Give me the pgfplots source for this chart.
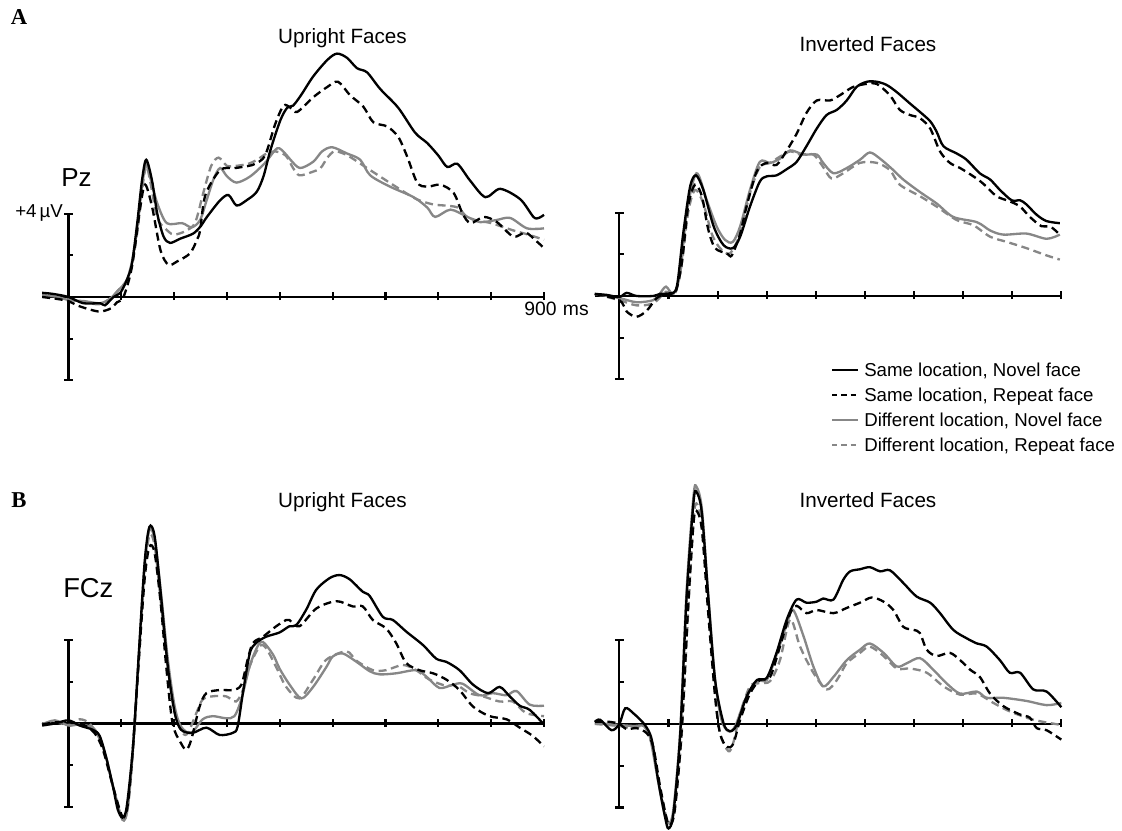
\documentclass[border=0pt]{standalone}
\usepackage{fontspec}
\setmainfont{Liberation Sans}
\newfontfamily\serifbf{Liberation Serif}
\usepackage{pgfplots}
\pgfplotsset{compat=1.18}
\definecolor{lgray}{RGB}{135,135,135}

\pgfplotsset{
 erp/.style={hide axis, scale only axis, clip=false, xmin=-50, xmax=900, ymin=-5, ymax=13, anchor=south west},
 sn/.style={black, line width=1.75pt, smooth, tension=0.5},
 sr/.style={black, line width=1.75pt, smooth, tension=0.5, dash pattern=on 6pt off 3.5pt},
 dn/.style={lgray, line width=1.75pt, smooth, tension=0.5},
 dr/.style={lgray, line width=1.75pt, smooth, tension=0.5, dash pattern=on 6pt off 3.5pt},
}
\tikzset{axln/.style={black, line width=1.6pt}}
\newcommand{\erpframe}{%
 \draw[axln] (axis cs:-50,0) -- (axis cs:900,0);
 \draw[axln] (axis cs:0,-4) -- (axis cs:0,4);
 \draw[axln] ([xshift=-3.4pt]axis cs:0,4) -- ([xshift=3.4pt]axis cs:0,4);
 \draw[axln] ([xshift=-3.4pt]axis cs:0,-4) -- ([xshift=3.4pt]axis cs:0,-4);
 \draw[axln] (axis cs:0,2) -- ([xshift=3.4pt]axis cs:0,2);
 \draw[axln] (axis cs:0,-2) -- ([xshift=3.4pt]axis cs:0,-2);
 \pgfplotsinvokeforeach{100,200,300,400,500,600,700,800,900}{\draw[axln] ([yshift=-2.4pt]axis cs:##1,0) -- ([yshift=3.6pt]axis cs:##1,0);}
}

\begin{document}
\begin{tikzpicture}
\path[use as bounding box] (0,0) rectangle (841.5pt,623.25pt);

% ---------------- A: Pz, Upright
\begin{axis}[erp, at={(31.6pt,322.5pt)}, width=376.4pt, height=280.8pt]
\erpframe
\addplot[dn] coordinates {(-50,0.1)(-20,0.0)(0,-0.15)(30,-0.2)(60,-0.3)(80,-0.05)(95,0.35)(110,0.8)(120,1.7)(130,3.3)(139,5.3)(147,6.45)(155,5.7)(168,4.5)(186,3.55)(215,3.55)(233,3.35)(249,3.7)(262,4.7)(275,5.7)(287,6.2)(300,5.8)(318,5.5)(344,5.8)(372,6.45)(395,7.15)(410,6.9)(420,6.6)(438,6.2)(463,6.5)(480,7.0)(499,7.2)(527,6.9)(552,6.6)(571,5.85)(609,5.3)(653,4.8)(679,4.3)(694,3.85)(723,4.2)(755,3.85)(779,3.6)(810,3.7)(836,3.8)(868,3.3)(900,3.3)};
\addplot[dr] coordinates {(-50,0.05)(-20,-0.05)(0,-0.1)(30,-0.25)(60,-0.35)(80,-0.05)(95,0.35)(110,0.8)(120,1.6)(130,3.1)(139,5.1)(147,6.3)(155,5.5)(168,3.8)(183,3.3)(199,3.0)(224,3.2)(240,3.6)(255,5.0)(270,6.3)(284,6.7)(300,6.3)(316,6.3)(340,6.4)(357,6.6)(375,6.9)(391,7.0)(411,6.8)(425,6.2)(437,5.85)(460,6.0)(477,6.2)(490,6.7)(503,7.0)(520,6.9)(535,6.7)(574,6.05)(626,5.2)(659,4.7)(690,4.45)(711,4.4)(737,4.3)(752,3.9)(770,3.7)(800,3.55)(842,3.2)(870,3.0)(900,2.75)};
\addplot[sr] coordinates {(-50,0.0)(-20,-0.1)(0,-0.2)(16,-0.4)(40,-0.6)(60,-0.7)(80,-0.55)(92,-0.25)(104,0.0)(120,1.45)(136,4.35)(145,5.4)(158,4.35)(174,2.25)(189,1.55)(205,1.7)(230,2.1)(243,2.75)(249,3.2)(259,4.9)(287,6.1)(316,6.2)(340,6.3)(353,6.4)(372,6.8)(391,8.3)(407,9.2)(420,9.1)(433,8.9)(463,9.6)(490,10.1)(510,10.35)(533,9.7)(558,9.15)(577,8.4)(603,8.2)(624,7.7)(641,6.75)(660,5.5)(679,5.3)(704,5.4)(729,5.0)(746,4.0)(761,3.55)(786,3.85)(811,3.6)(842,2.9)(865,3.1)(885,2.7)(900,2.35)};
\addplot[sn] coordinates {(-50,0.2)(-30,0.15)(0,0.0)(28,-0.3)(60,-0.3)(69,-0.4)(85,0.0)(98,0.2)(110,0.8)(120,1.6)(130,3.55)(139,5.6)(147,6.6)(158,5.6)(168,4.0)(180,2.9)(192,2.6)(211,2.8)(236,3.05)(250,3.4)(262,3.85)(287,4.65)(303,4.9)(318,4.4)(337,4.65)(356,5.05)(369,5.8)(382,7.05)(401,8.5)(414,9.1)(425,9.2)(440,9.7)(463,10.6)(490,11.4)(508,11.7)(527,11.5)(546,11.0)(565,10.8)(590,10.0)(624,9.1)(656,7.9)(679,7.4)(700,6.8)(717,6.25)(736,6.4)(760,5.6)(789,4.8)(817,5.2)(855,4.7)(880,3.85)(890,3.8)(900,3.95)};
\end{axis}

% ---------------- A: Pz, Inverted
\begin{axis}[erp, at={(446.1pt,323.25pt)}, width=349.9pt, height=280.8pt]
\erpframe
\addplot[dn] coordinates {(-50,0.1)(0,-0.1)(35,-0.3)(69,-0.2)(82,0.1)(95,0.45)(110,0.1)(124,1.1)(137,4.0)(157,5.9)(178,4.6)(198,3.35)(215,2.7)(231,2.6)(246,3.35)(266,5.1)(286,6.45)(307,6.4)(327,6.6)(348,7.0)(375,6.8)(402,6.8)(415,6.4)(436,5.9)(463,6.15)(490,6.55)(510,6.9)(531,6.6)(558,6.05)(578,5.6)(612,5.0)(646,4.45)(680,3.8)(728,3.55)(755,3.15)(782,2.95)(829,3.0)(870,2.75)(897,2.95)};
\addplot[dr] coordinates {(-50,0.1)(0,-0.2)(35,-0.45)(69,-0.35)(95,0.2)(113,0.1)(127,1.55)(140,4.0)(154,5.1)(171,4.45)(188,3.0)(205,2.3)(225,2.05)(246,3.0)(266,4.95)(286,6.2)(307,6.4)(327,6.7)(348,6.95)(368,6.8)(395,6.8)(415,6.2)(432,5.65)(456,5.9)(490,6.4)(524,6.4)(551,6.05)(571,5.35)(612,4.8)(646,4.3)(687,3.65)(721,3.4)(755,2.85)(789,2.6)(829,2.3)(870,1.95)(897,1.75)};
\addplot[sr] coordinates {(-50,0.1)(0,-0.2)(15,-0.75)(35,-1.0)(56,-0.7)(76,-0.1)(96,0.1)(113,0.1)(127,1.55)(140,4.3)(154,5.35)(168,4.8)(181,3.2)(195,2.3)(219,2.05)(229,1.95)(246,3.0)(259,4.3)(280,6.0)(300,6.4)(320,6.3)(341,7.0)(361,7.8)(381,8.8)(402,9.4)(429,9.4)(449,9.65)(476,10.05)(504,10.2)(524,10.2)(551,9.65)(571,8.95)(592,8.7)(612,8.55)(633,8.05)(653,6.95)(673,6.4)(694,6.15)(721,5.75)(741,5.4)(768,4.8)(795,4.55)(816,4.3)(836,3.8)(860,3.35)(877,3.35)(897,2.95)};
\addplot[sn] coordinates {(-50,0.1)(-25,0.05)(0,-0.05)(15,0.15)(35,0.0)(69,0.0)(83,0.1)(103,0.13)(117,0.45)(130,3.0)(144,5.25)(156,5.8)(171,5.1)(192,3.35)(212,2.45)(231,2.3)(246,2.85)(266,4.3)(286,5.5)(300,5.75)(320,5.8)(341,6.1)(361,6.45)(381,7.2)(402,8.05)(422,8.7)(443,8.95)(463,9.4)(483,10.05)(504,10.3)(524,10.3)(544,10.15)(565,9.8)(592,9.25)(612,8.85)(633,8.4)(646,7.9)(660,7.2)(687,6.85)(707,6.55)(734,5.9)(755,5.6)(775,5.1)(799,4.6)(816,4.6)(829,4.4)(850,3.9)(870,3.6)(897,3.5)};
\end{axis}

% ---------------- B: FCz, Upright
\begin{axis}[erp, at={(31.6pt,2.25pt)}, width=376.4pt, height=282.2pt]
\erpframe
\addplot[dn] coordinates {(-50,-0.05)(-26,0.15)(0,-0.1)(21,-0.05)(46,-0.2)(59,-0.7)(71,-1.6)(84,-3.0)(102,-4.6)(112,-4.05)(122,-1.25)(133,3.2)(144,7.5)(153,9.25)(163,8.8)(175,6.25)(188,3.05)(201,0.8)(213,-0.15)(232,-0.45)(254,0.2)(273,0.35)(298,0.25)(314,0.35)(327,1.15)(343,2.75)(358,3.7)(368,3.9)(387,3.3)(400,2.6)(420,1.8)(441,1.2)(463,1.75)(488,2.7)(500,3.2)(519,3.35)(545,2.95)(570,2.5)(589,2.35)(620,2.4)(658,2.55)(677,2.25)(702,1.7)(727,1.85)(746,1.9)(778,1.35)(803,1.45)(829,1.35)(848,1.55)(873,0.9)(900,0.85)};
\addplot[dr] coordinates {(-50,0.0)(-26,0.05)(0,-0.05)(21,0.2)(40,0.0)(59,-0.75)(71,-1.6)(84,-3.0)(102,-4.6)(112,-4.0)(122,-1.2)(133,3.0)(144,7.2)(153,9.0)(163,8.5)(175,5.75)(188,2.7)(201,0.5)(216,-0.45)(226,-0.45)(242,0.5)(254,1.15)(273,1.3)(298,1.3)(317,1.05)(330,1.6)(343,2.75)(362,3.7)(374,3.6)(393,2.7)(412,1.75)(437,1.2)(463,2.1)(488,3.05)(526,3.45)(545,3.0)(576,2.55)(601,2.55)(633,2.8)(658,2.55)(683,2.1)(715,1.8)(734,1.85)(759,1.45)(784,1.3)(816,1.05)(841,1.05)(866,0.5)(900,0.35)};
\addplot[sr] coordinates {(-50,-0.05)(-26,0.05)(0,0.05)(27,-0.05)(49,-0.45)(65,-1.25)(84,-3.0)(102,-4.45)(112,-3.9)(122,-1.1)(133,3.05)(144,6.9)(153,8.45)(163,8.15)(175,5.6)(185,2.7)(197,0.0)(213,-0.95)(223,-1.25)(232,-0.8)(248,0.8)(261,1.45)(286,1.6)(311,1.6)(327,1.85)(339,3.05)(349,3.85)(368,4.15)(393,4.65)(412,4.95)(418,4.95)(437,4.65)(469,5.5)(507,5.85)(538,5.6)(557,5.6)(576,4.95)(601,4.55)(620,3.85)(639,2.9)(664,2.55)(690,2.4)(715,2.1)(740,1.6)(766,0.8)(797,0.35)(829,0.2)(854,-0.2)(879,-0.6)(900,-1.1)};
\addplot[sn] coordinates {(-50,-0.1)(-26,0.0)(0,0.15)(21,-0.1)(46,-0.3)(59,-0.6)(71,-1.6)(84,-3.0)(93,-4.1)(102,-4.5)(110,-4.0)(122,-1.1)(133,3.35)(144,7.7)(153,9.4)(163,8.95)(175,6.1)(188,2.7)(201,0.5)(213,-0.3)(235,-0.45)(261,-0.2)(286,-0.55)(311,-0.45)(320,-0.15)(330,1.45)(343,3.35)(355,3.85)(374,4.15)(399,4.35)(418,4.65)(431,4.7)(450,5.45)(469,6.4)(494,6.95)(513,7.1)(532,6.9)(557,6.3)(570,6.1)(595,5.1)(614,4.95)(639,4.4)(671,3.75)(696,3.1)(715,2.95)(740,2.55)(766,1.85)(794,1.45)(816,1.75)(835,1.3)(854,0.85)(873,0.65)(900,-0.05)};
\end{axis}

% ---------------- B: FCz, Inverted
\begin{axis}[erp, at={(446.1pt,1.9pt)}, width=349.9pt, height=282.2pt]
\erpframe
\addplot[dn] coordinates {(-50,0.05)(0,-0.05)(29,-0.1)(50,-0.1)(62,-0.6)(76,-2.35)(90,-4.1)(100,-4.75)(110,-4.1)(124,-0.3)(137,6.4)(151,10.9)(157,11.35)(168,10.3)(181,6.2)(195,2.1)(208,0.2)(222,-0.35)(236,-0.1)(256,1.15)(280,2.05)(300,2.1)(320,3.3)(341,4.8)(354,5.45)(375,4.2)(395,2.75)(415,1.8)(436,2.25)(463,3.05)(490,3.55)(510,3.85)(538,3.4)(565,2.75)(585,2.9)(612,3.15)(639,2.6)(666,1.95)(694,1.45)(728,1.55)(748,1.25)(782,1.25)(829,1.1)(870,0.9)(900,1.0)};
\addplot[dr] coordinates {(-50,0.0)(0,-0.1)(29,-0.2)(50,-0.1)(66,-0.95)(79,-2.7)(96,-4.5)(103,-4.75)(113,-4.0)(127,-0.45)(140,5.3)(151,9.75)(157,10.55)(168,9.6)(181,5.75)(195,1.45)(205,-0.45)(222,-1.3)(232,-0.9)(246,0.5)(266,1.8)(286,1.95)(307,2.05)(327,3.05)(348,5.0)(368,3.7)(395,2.45)(422,1.65)(443,2.1)(463,2.9)(490,3.4)(510,3.7)(538,3.25)(565,2.65)(592,2.65)(626,2.45)(660,1.8)(694,1.4)(728,1.45)(762,1.0)(795,0.6)(836,0.25)(863,0.1)(900,-0.05)};
\addplot[sr] coordinates {(-50,0.1)(-20,0.1)(0,0.0)(15,-0.25)(35,-0.2)(56,-0.45)(69,-1.1)(83,-3.0)(96,-4.5)(103,-4.85)(113,-4.1)(127,-0.3)(140,5.6)(151,9.6)(157,10.2)(168,9.3)(181,5.3)(195,1.3)(205,-0.45)(219,-1.1)(232,-0.95)(246,0.2)(266,1.45)(286,2.1)(307,2.25)(327,3.7)(348,5.3)(361,5.65)(381,5.3)(402,5.45)(436,5.3)(463,5.55)(490,5.8)(514,6.05)(538,5.85)(558,5.45)(578,4.65)(599,4.5)(612,4.35)(626,3.55)(646,3.25)(673,3.4)(694,3.05)(714,2.6)(734,2.25)(755,1.45)(782,0.85)(816,0.45)(836,0.3)(850,-0.2)(870,-0.3)(900,-0.75)};
\addplot[sn] coordinates {(-50,0.1)(-39,0.2)(-16,-0.3)(0,0.0)(12,0.75)(29,0.5)(52,-0.05)(66,-0.75)(79,-2.7)(93,-4.45)(100,-5.0)(110,-4.3)(124,-0.45)(137,6.1)(151,10.6)(157,11.1)(168,10.1)(181,6.1)(195,2.1)(212,0.05)(225,-0.35)(239,-0.05)(259,1.3)(280,2.1)(300,2.2)(320,3.4)(341,5.0)(361,5.95)(381,5.8)(402,5.85)(415,6.0)(436,5.95)(456,6.9)(470,7.3)(490,7.4)(510,7.5)(531,7.3)(551,7.35)(578,6.75)(605,6.1)(633,5.8)(653,5.3)(680,4.5)(707,4.1)(728,3.85)(748,3.7)(775,3.05)(795,2.45)(816,2.45)(843,1.65)(870,1.55)(900,0.8)};
\end{axis}

% ---------------- labels
\node[font=\serifbf\bfseries\fontsize{17}{17}\selectfont, inner sep=0] at (14.25pt,610.5pt) {A};
\node[font=\serifbf\bfseries\fontsize{17}{17}\selectfont, inner sep=0] at (14.25pt,248.25pt) {B};
\node[font=\fontsize{15.5}{16}\selectfont, anchor=base, inner sep=0] at (256.9pt,590.6pt) {Upright Faces};
\node[font=\fontsize{15.5}{16}\selectfont, anchor=base, inner sep=0] at (651pt,584.6pt) {Inverted Faces};
\node[font=\fontsize{15.5}{16}\selectfont, anchor=base, inner sep=0] at (256.9pt,242.25pt) {Upright Faces};
\node[font=\fontsize{15.5}{16}\selectfont, anchor=base, inner sep=0] at (651pt,242.25pt) {Inverted Faces};
\node[font=\fontsize{19.5}{20}\selectfont, anchor=base west, inner sep=0] at (45.75pt,483pt) {Pz};
\node[font=\fontsize{20.5}{21}\selectfont, anchor=base west, inner sep=0] at (47.25pt,174.75pt) {FCz};
\node[font=\fontsize{14}{15}\selectfont, anchor=base east, inner sep=0] at (47.4pt,459.75pt) {+4\,µV};
\node[font=\fontsize{14.5}{15}\selectfont, anchor=base west, inner sep=0] at (393pt,386.25pt) {900\,\,ms};

% ---------------- legend
\draw[black, line width=1.3pt] (624pt,345.75pt) -- (643.5pt,345.75pt);
\draw[black, line width=1.3pt, dash pattern=on 4pt off 3pt] (624pt,327pt) -- (643.5pt,327pt);
\draw[lgray, line width=1.3pt] (624pt,308.25pt) -- (643.5pt,308.25pt);
\draw[lgray, line width=1.3pt, dash pattern=on 4pt off 3pt] (624pt,289.5pt) -- (643.5pt,289.5pt);
\node[font=\fontsize{14}{15}\selectfont, anchor=base west, inner sep=0] at (648pt,340.5pt) {Same location, Novel face};
\node[font=\fontsize{14}{15}\selectfont, anchor=base west, inner sep=0] at (648pt,321.75pt) {Same location, Repeat face};
\node[font=\fontsize{14}{15}\selectfont, anchor=base west, inner sep=0] at (648pt,303pt) {Different location, Novel face};
\node[font=\fontsize{14}{15}\selectfont, anchor=base west, inner sep=0] at (648pt,284.25pt) {Different location, Repeat face};
\end{tikzpicture}
\end{document}
